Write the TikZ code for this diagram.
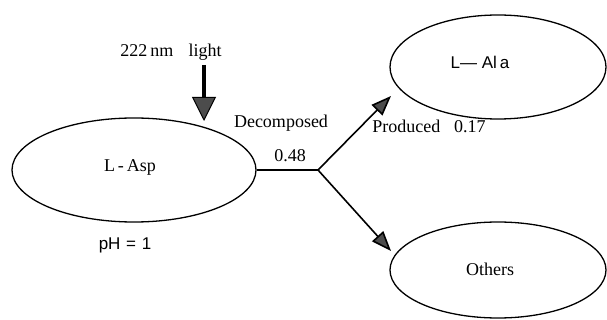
\documentclass[tikz,border=0pt]{standalone}
\usepackage{fontspec}
\setmainfont{Liberation Serif}
\newfontfamily\gothic{Liberation Sans}
\usetikzlibrary{shapes.geometric,arrows.meta}
\tikzset{
  species/.style={draw=black, line width=1.3pt, ellipse, inner sep=0pt},
  label/.style={font=\fontsize{18}{20}\selectfont, inner sep=0pt, anchor=base},
  glabel/.style={font=\gothic\fontsize{17}{20}\selectfont, inner sep=0pt, anchor=base},
  branch/.style={line width=1.6pt, -{Triangle[length=20pt,width=15pt,fill=black!70]}},
  lightray/.style={line width=4pt, -{Triangle[length=24pt,width=24pt,fill=black!70,line width=1pt]}},
}
\begin{document}
\begin{tikzpicture}[x=1pt,y=-1pt]
  \useasboundingbox (0,0) rectangle (607,320);

  % reactant and products
  \node[species, minimum width=244pt, minimum height=104pt] (asp) at (134,170) {};
  \node[species, minimum width=216pt, minimum height=104pt] (ala) at (498,67) {};
  \node[species, minimum width=216pt, minimum height=96pt] (oth) at (498,270) {};

  \node[label] (asptext) at (130,172) {L\,-\,Asp};
  \node[glabel] (alatext) at (480,69) {L— Al\,a};
  \node[label] (othtext) at (490,275) {Others};
  \node[glabel] (ph) at (125,249) {pH\,\,=\,\,1};

  % irradiation
  \node[label] (light) at (171,57) {222\,nm\hspace{15pt}light};
  \coordinate (raytop) at (204,65);
  \coordinate (raytip) at (204,121);
  \draw[lightray] (raytop) -- (raytip);

  % branching
  \coordinate (fork) at (318,170);
  \coordinate (upend) at (391,96);
  \coordinate (downend) at (391,251);
  \draw[line width=1.6pt] (asp.east) -- (fork);
  \draw[branch] (fork) -- (upend);
  \draw[branch] (fork) -- (downend);

  \node[label] (dec) at (281,128) {Decomposed};
  \node[label] (decval) at (290,162) {0.48};
  \node[label] (prod) at (429,133) {Produced\hspace{14pt}0.17};
\end{tikzpicture}
\end{document}
